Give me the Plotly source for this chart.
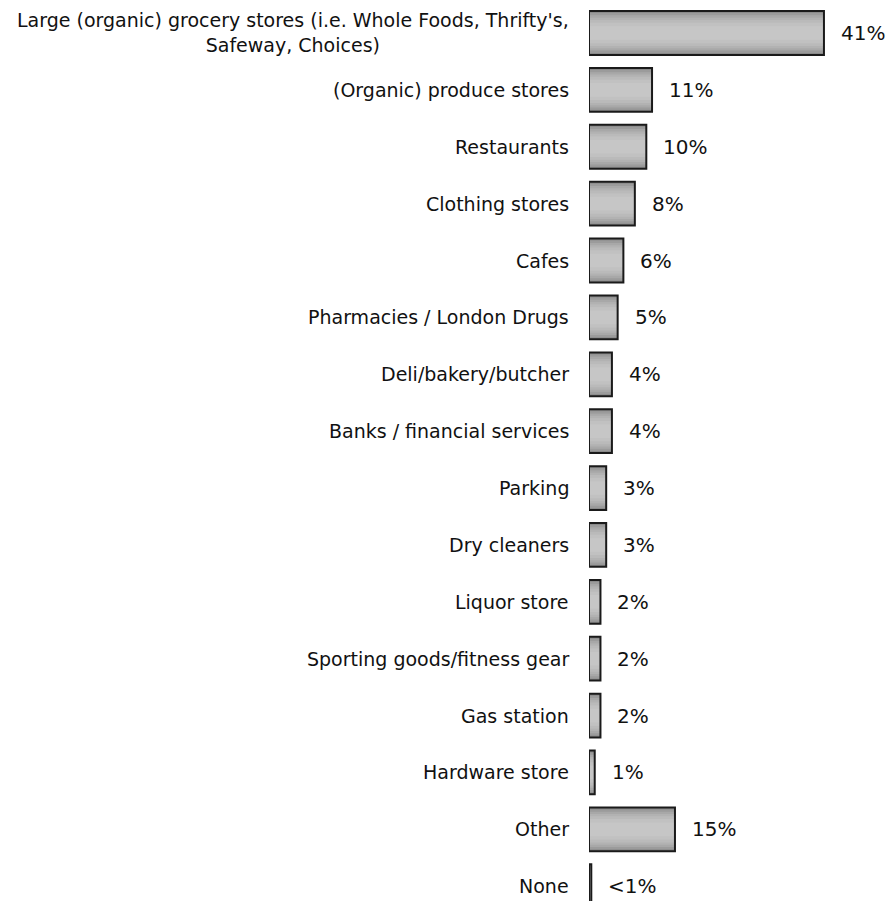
import plotly.graph_objects as go

# Survey responses: share of respondents naming each type of business
categories = [
    "Large (organic) grocery stores (i.e. Whole Foods, Thrifty's,<br>Safeway, Choices)",
    "(Organic) produce stores",
    "Restaurants",
    "Clothing stores",
    "Cafes",
    "Pharmacies / London Drugs",
    "Deli/bakery/butcher",
    "Banks / financial services",
    "Parking",
    "Dry cleaners",
    "Liquor store",
    "Sporting goods/fitness gear",
    "Gas station",
    "Hardware store",
    "Other",
    "None",
]
values = [41, 11, 10, 8, 6, 5, 4, 4, 3, 3, 2, 2, 2, 1, 15, 0.4]
value_labels = ["41%", "11%", "10%", "8%", "6%", "5%", "4%", "4%", "3%", "3%",
                "2%", "2%", "2%", "1%", "15%", "<1%"]

positions = list(range(len(categories)))
font_family = "DejaVu Sans, Verdana, sans-serif"
BAR_WIDTH = 0.77

fig = go.Figure()

# Shaded bar body: nested bands going from darker edges to a lighter centre
bands = [
    (BAR_WIDTH, "#8a8a8a"),
    (0.70, "#9b9b9b"),
    (0.62, "#a8a8a8"),
    (0.54, "#b2b2b2"),
    (0.46, "#bababa"),
    (0.36, "#c1c1c1"),
    (0.24, "#c6c6c6"),
]
for w, col in bands:
    fig.add_trace(go.Bar(
        x=values, y=positions, orientation="h", width=w,
        marker=dict(color=col, line=dict(width=0)),
        hoverinfo="skip", showlegend=False,
    ))

# Dark outline on top of the shading
fig.add_trace(go.Bar(
    x=values, y=positions, orientation="h", width=BAR_WIDTH,
    marker=dict(color="rgba(0,0,0,0)", line=dict(color="#1a1a1a", width=2)),
    hoverinfo="skip", showlegend=False,
))

annotations = []
for pos, cat, val, lab in zip(positions, categories, values, value_labels):
    annotations.append(dict(
        x=0, y=pos, xref="x", yref="y", text=cat, showarrow=False,
        xanchor="right", yanchor="middle", align="center", xshift=-18,
        font=dict(family=font_family, size=19, color="#111"),
    ))
    annotations.append(dict(
        x=val, y=pos, xref="x", yref="y", text=lab, showarrow=False,
        xanchor="left", yanchor="middle", xshift=15,
        font=dict(family=font_family, size=20, color="#111"),
    ))

fig.update_layout(
    width=891, height=901,
    margin=dict(l=589, r=0, t=0, b=0),
    paper_bgcolor="white", plot_bgcolor="white",
    barmode="overlay",
    xaxis=dict(range=[0, 52.7], visible=False, fixedrange=True),
    yaxis=dict(range=[15.26, -0.58], visible=False, fixedrange=True),
    annotations=annotations,
)

fig.write_html("out.html")
